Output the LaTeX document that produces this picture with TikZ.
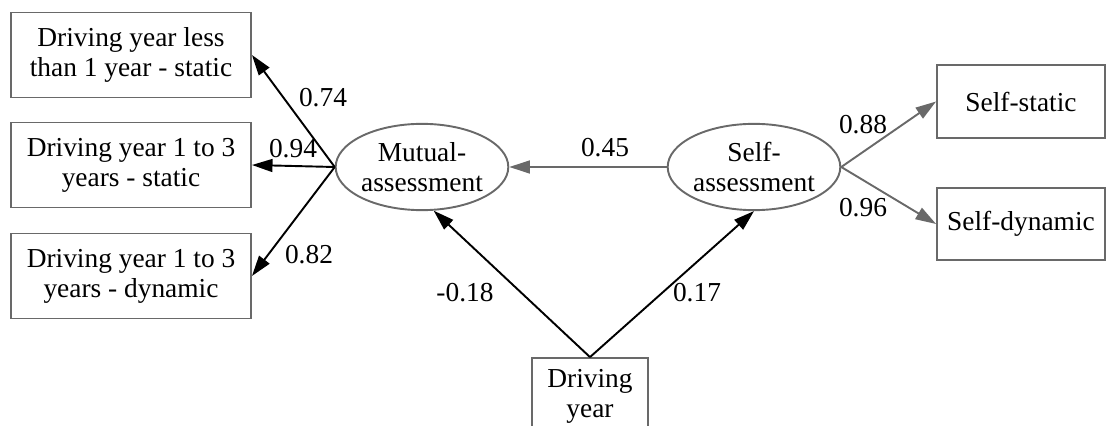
\documentclass[tikz,border=0pt]{standalone}
\usepackage{fontspec}
\setmainfont{Liberation Serif}
\usetikzlibrary{shapes.geometric, arrows.meta}
\definecolor{edgegray}{RGB}{105,105,105}
\tikzstyle{obs} = [rectangle, draw=edgegray, line width=0.7pt, align=center, inner sep=0pt, minimum width=87.6pt, minimum height=31pt]
\tikzstyle{selfobs} = [obs, minimum width=61.3pt, minimum height=26.6pt]
\tikzstyle{latent} = [ellipse, draw=edgegray, line width=0.7pt, align=center, inner sep=0pt, minimum width=63pt, minimum height=31.5pt]
\tikzstyle{blackarrow} = [line width=0.7pt, -{Triangle[length=7.5pt,width=4.7pt]}]
\tikzstyle{grayarrow} = [blackarrow, draw=edgegray]

\begin{document}
\begin{tikzpicture}[x=0.365pt, y=-0.365pt, font=\fontsize{10}{11}\selectfont]

\useasboundingbox (0,0) rectangle (1109,426);
\clip (0,0) rectangle (1109,426);

\node (less1) [obs] at (131,55) {Driving year less\\than 1 year - static};
\node (onethree) [obs] at (131,165) {Driving year 1 to 3\\years - static};
\node (onethreedyn) [obs] at (131,276) {Driving year 1 to 3\\years - dynamic};

\node (mutual) [latent] at (422,167) {Mutual-\\assessment};
\node (self) [latent] at (754,167) {Self-\\assessment};

\node (selfstatic) [selfobs] at (1021,101.5) {Self-static};
\node (selfdyn) [selfobs] at (1021,224) {Self-dynamic};

\node (dyear) [obs, minimum width=42.3pt, minimum height=27.7pt] at (590,396) {Driving\\year};

\draw [blackarrow] (mutual.west) -- (less1.east);
\draw [blackarrow] (mutual.west) -- (onethree.east);
\draw [blackarrow] (mutual.west) -- (onethreedyn.east);
\draw [grayarrow] (self.west) -- (mutual.east);
\draw [grayarrow] (self.east) -- (selfstatic.west);
\draw [grayarrow] (self.east) -- (selfdyn.west);
\draw [blackarrow] (dyear.north) -- (mutual.285);
\draw [blackarrow] (dyear.north) -- (self.south);

\node (w074) at (323,98) {0.74};
\node (w094) at (293,149) {0.94};
\node (w082) at (309,255) {0.82};
\node (w045) at (605,148) {0.45};
\node (w018) at (465,293) {-0.18};
\node (w017) at (697,293) {0.17};
\node (w088) at (863,125) {0.88};
\node (w096) at (863,208) {0.96};

\end{tikzpicture}
\end{document}
